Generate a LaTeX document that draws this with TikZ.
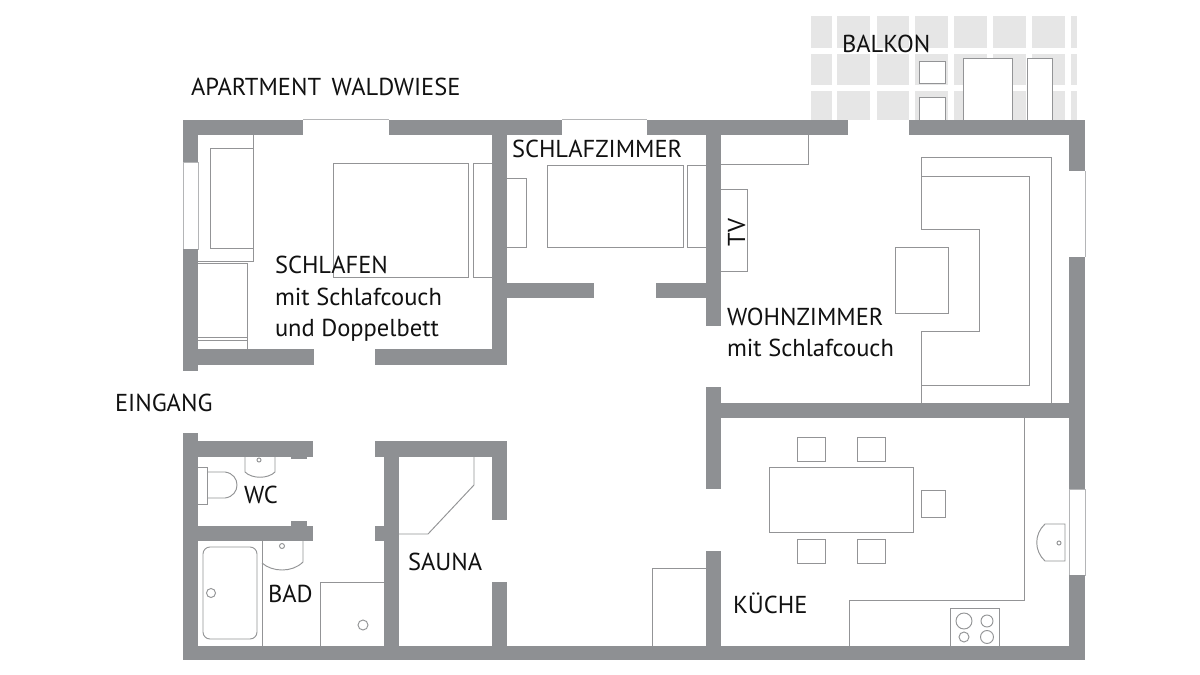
\documentclass[tikz,border=0pt]{standalone}
\usepackage{fontspec}
\setmainfont{PT Sans}
\definecolor{wallc}{HTML}{8E9093}
\definecolor{linec}{HTML}{939496}
\definecolor{winc}{HTML}{B4B5B7}
\definecolor{tilec}{HTML}{E6E6E6}
\definecolor{textc}{HTML}{111111}
\tikzset{
  wall/.style={fill=wallc,draw=none},
  tile/.style={fill=tilec,draw=none},
  furn/.style={draw=linec,line width=0.95pt,line join=miter},
  furnw/.style={furn,fill=white},
  winl/.style={draw=winc,line width=0.8pt},
  label/.style={anchor=base west,inner sep=0pt,outer sep=0pt,text=textc,font=\fontsize{24.5}{24.5}\selectfont},
}
\begin{document}
\begin{tikzpicture}[x=1pt,y=-1pt]
\useasboundingbox (0,0) rectangle (1200,675);
\fill[white] (0,0) rectangle (1200,675);
% balcony tiles
\foreach \xa/\xb in {811/832,837/870,877/909,915/948,954/987,993/1026,1032/1065,1071/1077}
  \foreach \ya/\yb in {16/48,54/85,91/120}
    \fill[tile] (\xa,\ya) rectangle (\xb,\yb);
% balcony furniture
\draw[furnw] (919,61) rectangle (945,83);
\draw[furnw] (919,120) -- (919,97) -- (945,97) -- (945,120);
\draw[furnw] (963,120) -- (963,58) -- (1012,58) -- (1012,120);
\draw[furnw] (1027,120) -- (1027,58) -- (1052,58) -- (1052,120);
% windows
\draw[winl] (303,119.5) -- (389,119.5);
\draw[winl] (562,119.5) -- (647,119.5);
\draw[winl] (183,162) rectangle (198,249);
\draw[winl] (1085,171) -- (1085,257);
\draw[winl] (1069,489) rectangle (1085,575);
% walls
\fill[wall] (183,120) rectangle (303,135);
\fill[wall] (389,120) rectangle (562,135);
\fill[wall] (647,120) rectangle (848,135);
\fill[wall] (909,120) rectangle (1085,135);
\fill[wall] (183,120) rectangle (198,162);
\fill[wall] (183,249) rectangle (198,371);
\fill[wall] (183,349) rectangle (314,365);
\fill[wall] (375,349) rectangle (507,365);
\fill[wall] (492,120) rectangle (507,365);
\fill[wall] (507,283) rectangle (594,298);
\fill[wall] (656,283) rectangle (706,298);
\fill[wall] (706,120) rectangle (721,326);
\fill[wall] (706,387) rectangle (721,489);
\fill[wall] (706,551) rectangle (721,660);
\fill[wall] (706,403) rectangle (1085,418);
\fill[wall] (1069,120) rectangle (1085,171);
\fill[wall] (1069,257) rectangle (1085,489);
\fill[wall] (1069,575) rectangle (1085,660);
\fill[wall] (183,646) rectangle (1085,660);
\fill[wall] (183,433) rectangle (198,660);
\fill[wall] (183,441) rectangle (313,457);
\fill[wall] (291,455) rectangle (307,459);
\fill[wall] (183,526) rectangle (313,541);
\fill[wall] (291,521) rectangle (307,528);
\fill[wall] (375,441) rectangle (507,457);
\fill[wall] (384,441) rectangle (399,660);
\fill[wall] (375,526) rectangle (384,541);
\fill[wall] (492,441) rectangle (507,520);
\fill[wall] (492,582) rectangle (507,660);
% Schlafen furniture
\draw[furn] (253,135) -- (253,261) -- (198,261);
\draw[furn] (253,148) -- (210,148) -- (210,248) -- (253,248);
\draw[furn] (198,263) -- (247,263) -- (247,349);
\draw[furn] (198,337) -- (247,337) (198,340) -- (247,340);
\draw[furn] (333,163) rectangle (468,277);
\draw[furn] (492,163) -- (473,163) -- (473,277) -- (492,277);
% Schlafzimmer furniture
\draw[furn] (547,165) rectangle (683,247);
\draw[furn] (706,165) -- (687,165) -- (687,247) -- (706,247);
\draw[furn] (507,178) -- (526,178) -- (526,247) -- (507,247);
% Wohnzimmer furniture
\draw[furn] (721,164) -- (808,164) -- (808,135);
\draw[furn] (721,189) -- (747,189) -- (747,271) -- (721,271);
\draw[furn] (921,229) -- (921,157) -- (1051,157) -- (1051,403);
\draw[furn] (921,176) -- (1029,176) -- (1029,385) -- (921,385);
\draw[furn] (921,229) -- (979,229) -- (979,331) -- (921,331) -- (921,403);
\draw[furn] (895,247) rectangle (948,313);
% Kueche
\draw[furn] (769,467) rectangle (913,532);
\draw[furn] (797,437) rectangle (825,461);
\draw[furn] (857,437) rectangle (885,461);
\draw[furn] (797,539) rectangle (825,563);
\draw[furn] (857,539) rectangle (885,563);
\draw[furn] (921,490) rectangle (945,517);
\draw[furn] (1024,418) -- (1024,600) -- (849,600) -- (849,646);
\draw[furn] (950,646) -- (950,608) -- (999,608) -- (999,646);
\draw[furn] (964,621) circle (8);
\draw[furn] (987,621) circle (6);
\draw[furn] (964,637) circle (5);
\draw[furn] (987,637) circle (6.5);
\draw[furn] (1065,524) -- (1045,524) .. controls (1034,534) and (1034,551) .. (1045,561) -- (1065,561) -- cycle;
\draw[furn] (1059,543) circle (2);
\draw[furn] (652,646) -- (652,568) -- (706,568);
% Bad
\draw[furn] (262,541) -- (262,646);
\draw[furn,rounded corners=7pt] (203,547) rectangle (257,639);
\draw[furn] (211,593) circle (4.5);
\draw[furn] (303,541) -- (303,562) .. controls (292,573) and (272,572) .. (262,563);
\draw[furn] (282,546) circle (2.5);
\draw[furn] (320,646) -- (320,582) -- (384,582);
\draw[furn] (363,625) circle (5);
% WC
\draw[furn] (245,457) -- (245,472) .. controls (252,479) and (268,479) .. (275,472) -- (275,457);
\draw[furn] (259,460) circle (2);
\draw[furn] (198,467) -- (207,467) -- (207,504) -- (198,504);
\draw[furn] (207,472) -- (225,472) .. controls (241,474) and (241,496) .. (225,498) -- (207,498);
% Sauna
\draw[furn] (474,457) -- (474,485) -- (428,534) -- (399,534);
% labels
\node[label] (tapt) at (191,95) {APARTMENT\hspace{4pt} WALDWIESE};
\node[label] (tbal) at (842,52) {BALKON};
\node[label] (tsz) at (512,157) {SCHLAFZIMMER};
\node[label] (ts1) at (275,273) {SCHLAFEN};
\node[label] (ts2) at (275,305) {mit Schlafcouch};
\node[label] (ts3) at (275,336) {und Doppelbett};
\node[label,rotate=90] (ttv) at (745,246) {TV};
\node[label] (tw1) at (727,325) {WOHNZIMMER};
\node[label] (tw2) at (727,356) {mit Schlafcouch};
\node[label] (tein) at (115,411) {EINGANG};
\node[label] (twc) at (244,503) {WC};
\node[label] (tbad) at (268,602) {BAD};
\node[label] (tsau) at (408,570) {SAUNA};
\node[label] (tku) at (733,613) {KÜCHE};
\end{tikzpicture}
\end{document}
